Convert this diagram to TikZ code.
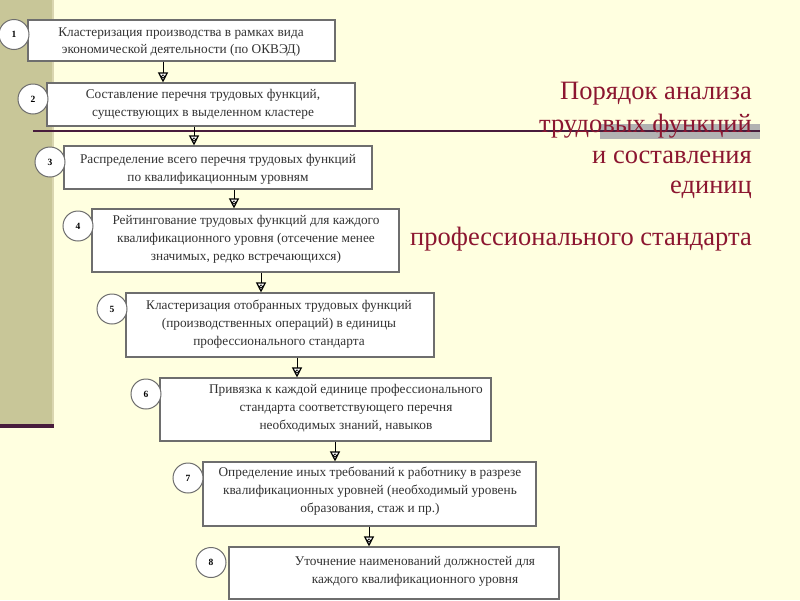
\documentclass[tikz,border=0pt]{standalone}
\usepackage{fontspec}
\setmainfont{Liberation Serif}
\usetikzlibrary{arrows.meta}
\definecolor{bgc}{RGB}{255,255,224}
\definecolor{olivec}{RGB}{200,198,152}
\definecolor{olivee}{RGB}{218,214,176}
\definecolor{darkln}{RGB}{72,28,60}
\definecolor{titlec}{RGB}{140,22,48}
\definecolor{boxc}{RGB}{110,110,110}
\definecolor{txtc}{RGB}{50,50,50}
\definecolor{bandc}{RGB}{178,178,178}
\begin{document}
\begin{tikzpicture}[x=1pt,y=-1pt,
  box/.style={draw=boxc, line width=1.1pt, fill=white, rectangle, inner sep=0pt},
  btxt/.style={align=center, font=\fontsize{13.3}{17.8}\selectfont, text=txtc, inner sep=0pt},
  num/.style={circle, draw=boxc, line width=1pt, fill=white, minimum size=30pt, inner sep=0pt, font=\fontsize{9.5}{10}\selectfont\bfseries},
  arr/.style={draw=black, line width=1pt, -{Triangle[open, length=10pt, width=10pt, fill=white, line width=1.2pt]}},
  ttl/.style={anchor=base east, text=titlec, font=\fontsize{26.5}{30}\selectfont, inner sep=0pt}
]
\useasboundingbox (0,0) rectangle (800,600);
\fill[bgc] (0,0) rectangle (800,600);
% left strip
\fill[olivec] (0,0) rectangle (52,424);
\fill[olivee] (52,0) rectangle (53.5,424);
\fill[darkln] (0,424) rectangle (53.5,428);
% rule
\fill[bandc] (600,124) rectangle (760,139);
\draw[darkln, line width=2pt] (33,131) -- (760,131);

% boxes
\node[box, minimum width=307pt, minimum height=41pt] (b1) at (181.5,40.5) {};
\node[box, minimum width=308pt, minimum height=43pt] (b2) at (201,104.5) {};
\node[box, minimum width=308pt, minimum height=43pt] (b3) at (218,167.5) {};
\node[box, minimum width=307pt, minimum height=63pt] (b4) at (245.5,240.5) {};
\node[box, minimum width=308pt, minimum height=64pt] (b5) at (280,325) {};
\node[box, minimum width=331pt, minimum height=63pt] (b6) at (325.5,409.5) {};
\node[box, minimum width=333pt, minimum height=64pt] (b7) at (369.5,494) {};
\node[box, minimum width=330pt, minimum height=52pt] (b8) at (394,573) {};

% texts
\node[btxt] (t1) at (181,42) {Кластеризация производства в рамках вида\\экономической деятельности (по ОКВЭД)};
\node[btxt] (t2) at (203,104) {Составление перечня трудовых функций,\\существующих в выделенном кластере};
\node[btxt] (t3) at (218,169) {Распределение всего перечня трудовых функций\\по квалификационным уровням};
\node[btxt] (t4) at (246,239) {Рейтингование трудовых функций для каждого\\квалификационного уровня (отсечение менее\\значимых, редко встречающихся)};
\node[btxt] (t5) at (279,324) {Кластеризация отобранных трудовых функций\\(производственных операций) в единицы\\профессионального стандарта};
\node[btxt] (t6) at (346,408) {Привязка к каждой единице профессионального\\стандарта соответствующего перечня\\необходимых знаний, навыков};
\node[btxt] (t7) at (370,491) {Определение иных требований к работнику в разрезе\\квалификационных уровней (необходимый уровень\\образования, стаж и пр.)};
\node[btxt] (t8) at (415,571) {Уточнение наименований должностей для\\каждого квалификационного уровня};

% numbers
\node[num] (c1) at (14,34.5) {1};
\node[num] (c2) at (33,99) {2};
\node[num] (c3) at (50,162) {3};
\node[num] (c4) at (78,226) {4};
\node[num] (c5) at (112,309) {5};
\node[num] (c6) at (146,394) {6};
\node[num] (c7) at (188,478) {7};
\node[num] (c8) at (211,562.5) {8};

% arrows
\foreach \a/\b/\x in {b1/b2/163, b2/b3/194, b3/b4/234, b4/b5/261, b5/b6/297, b6/b7/335, b7/b8/369}{
  \draw[arr] (\a.south -| \x,0) -- (\b.north -| \x,0);
  \draw[line width=0.7pt] ([yshift=6pt]\b.north -| \x,0) circle[radius=1.7pt];
}

% title
\node[ttl] (h1) at (752,99) {Порядок анализа};
\node[ttl] (h2) at (752,132) {трудовых функций};
\node[ttl] (h3) at (752,163) {и составления};
\node[ttl] (h4) at (752,193) {единиц};
\node[ttl] (h5) at (752,245) {профессионального стандарта};
\end{tikzpicture}
\end{document}
